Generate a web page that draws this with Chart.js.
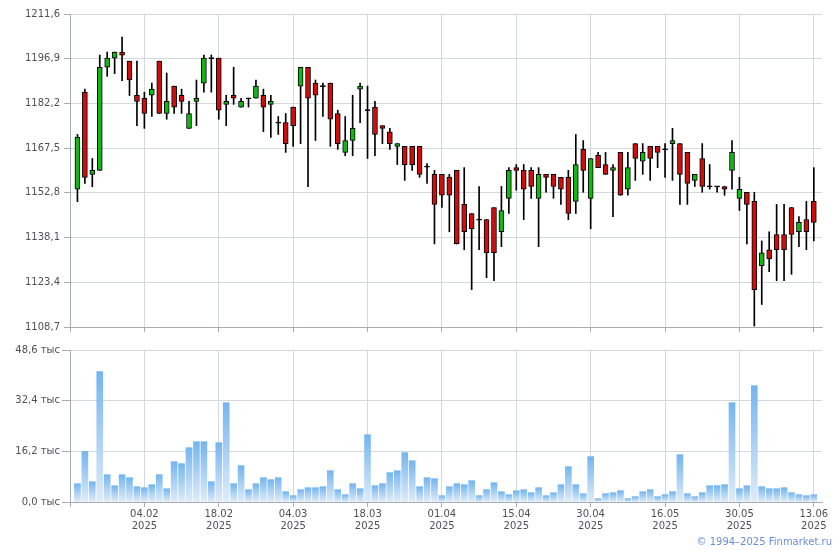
<!DOCTYPE html>
<html>
<head>
<meta charset="utf-8">
<script src="https://cdn.jsdelivr.net/npm/chart.js@4.4.0/dist/chart.umd.min.js"></script>
<style>
  body { margin: 0; background: #fff; }
  #wrap { position: relative; width: 840px; height: 550px; }
  #price { position: absolute; left: 0; top: 0; }
  #vol { position: absolute; left: 0; top: 335px; }
  #copy { position: absolute; right: 8px; top: 536px; font: 10px "DejaVu Sans"; color: #6b8fd6; line-height: 12px; }
</style>
</head>
<body>
<div id="wrap">
  <canvas id="price" width="840" height="337"></canvas>
  <canvas id="vol" width="840" height="215"></canvas>
  <div id="copy">© 1994–2025 Finmarket.ru</div>
</div>
<script>
// daily candles, 100 sessions (late Jan - 13.06.2025)
const opens = [
  1154.0, 1185.9, 1158.9, 1160.2, 1194.1, 1197.1, 1199.1, 1196.1, 1184.9, 1183.9,
  1184.9, 1196.1, 1178.9, 1187.9, 1184.9, 1174.0, 1182.9, 1188.9, 1197.1, 1197.1,
  1181.9, 1184.9, 1181.0, 1183.9, 1183.9, 1184.9, 1181.9, 1175.9, 1175.9, 1181.0,
  1187.9, 1194.1, 1188.9, 1187.9, 1188.9, 1178.9, 1166.1, 1170.0, 1186.9, 1180.0,
  1181.0, 1174.9, 1172.9, 1168.1, 1168.1, 1168.1, 1168.1, 1161.4, 1158.9, 1158.9,
  1158.0, 1160.2, 1149.0, 1146.0, 1144.0, 1144.0, 1148.0, 1140.0, 1151.0, 1161.1,
  1160.2, 1160.2, 1151.0, 1158.9, 1158.9, 1157.9, 1157.9, 1150.0, 1167.1, 1151.0,
  1165.1, 1162.1, 1160.2, 1166.1, 1154.0, 1169.0, 1163.2, 1168.1, 1168.1, 1167.1,
  1169.0, 1169.0, 1166.1, 1156.9, 1164.1, 1154.9, 1154.9, 1154.9, 1160.2, 1151.0,
  1153.0, 1150.0, 1128.9, 1134.1, 1139.1, 1139.1, 1148.0, 1140.0, 1144.0, 1150.0
];
const highs = [
  1172.0, 1186.9, 1164.1, 1198.1, 1199.1, 1199.1, 1204.0, 1196.1, 1196.1, 1185.9,
  1188.9, 1196.1, 1192.2, 1187.9, 1186.9, 1182.9, 1189.9, 1198.1, 1198.1, 1197.1,
  1184.9, 1194.1, 1183.9, 1183.9, 1189.9, 1186.9, 1184.9, 1177.9, 1178.9, 1181.0,
  1194.1, 1194.1, 1189.9, 1188.9, 1188.9, 1180.0, 1177.9, 1184.9, 1188.9, 1187.9,
  1182.9, 1174.9, 1174.0, 1169.0, 1168.1, 1168.1, 1168.1, 1162.4, 1160.2, 1158.9,
  1158.9, 1160.2, 1161.1, 1146.0, 1154.9, 1144.0, 1148.0, 1154.9, 1161.1, 1162.1,
  1162.1, 1161.1, 1161.1, 1158.9, 1158.9, 1157.9, 1160.2, 1172.0, 1170.0, 1164.1,
  1166.1, 1166.1, 1162.1, 1166.1, 1166.1, 1169.0, 1169.0, 1168.1, 1168.1, 1169.0,
  1174.0, 1169.0, 1166.1, 1158.9, 1169.0, 1162.1, 1154.9, 1154.9, 1170.0, 1157.9,
  1153.0, 1153.0, 1137.0, 1140.0, 1149.0, 1149.0, 1148.0, 1145.0, 1150.0, 1161.1
];
const lows = [
  1149.9, 1155.9, 1154.8, 1160.2, 1191.1, 1192.0, 1189.7, 1184.8, 1174.9, 1174.0,
  1177.9, 1178.9, 1177.0, 1178.9, 1178.9, 1174.0, 1174.9, 1185.9, 1185.9, 1177.0,
  1174.9, 1181.9, 1181.0, 1181.0, 1183.9, 1172.9, 1171.0, 1172.0, 1166.1, 1168.1,
  1169.0, 1154.8, 1170.0, 1177.9, 1168.1, 1167.1, 1165.0, 1165.0, 1175.9, 1164.1,
  1165.0, 1169.0, 1167.1, 1162.1, 1156.9, 1160.2, 1157.9, 1155.9, 1136.0, 1148.0,
  1140.0, 1136.0, 1134.1, 1121.0, 1134.1, 1124.9, 1123.9, 1135.1, 1146.0, 1153.7,
  1144.0, 1151.0, 1135.1, 1153.0, 1151.0, 1149.0, 1144.0, 1146.0, 1153.0, 1141.0,
  1161.1, 1158.9, 1145.0, 1152.0, 1152.0, 1156.9, 1158.9, 1156.9, 1161.1, 1157.9,
  1156.9, 1149.0, 1149.0, 1154.9, 1153.0, 1154.0, 1153.0, 1152.0, 1154.0, 1147.0,
  1136.0, 1109.0, 1116.1, 1126.9, 1123.9, 1123.9, 1126.0, 1135.1, 1134.1, 1137.0
];
const closes = [
  1171.1, 1157.9, 1160.2, 1194.1, 1197.1, 1199.1, 1198.1, 1189.9, 1182.9, 1178.9,
  1186.9, 1178.9, 1182.9, 1181.0, 1182.9, 1178.9, 1183.9, 1197.1, 1197.1, 1180.0,
  1182.9, 1183.9, 1182.9, 1183.9, 1187.9, 1181.0, 1182.9, 1175.9, 1169.0, 1174.9,
  1194.1, 1183.9, 1184.9, 1187.9, 1177.0, 1169.0, 1170.0, 1174.0, 1187.9, 1180.0,
  1172.0, 1174.0, 1169.0, 1169.0, 1162.1, 1162.1, 1158.9, 1161.4, 1149.0, 1152.0,
  1152.0, 1136.0, 1140.0, 1141.0, 1144.0, 1133.1, 1133.1, 1147.0, 1160.2, 1160.2,
  1154.0, 1154.9, 1158.9, 1157.9, 1154.9, 1154.0, 1146.0, 1162.1, 1160.2, 1164.1,
  1161.1, 1158.9, 1161.1, 1152.0, 1161.1, 1164.1, 1166.1, 1164.1, 1166.1, 1167.1,
  1170.0, 1158.9, 1155.9, 1158.9, 1154.9, 1154.9, 1154.9, 1154.0, 1166.1, 1154.0,
  1149.0, 1121.0, 1133.1, 1131.1, 1134.1, 1134.1, 1139.1, 1143.1, 1140.0, 1143.1
];
// volume, thousands
const volumes = [
  5.86, 16.2, 6.5, 41.7, 8.74, 5.22, 8.74, 7.78, 4.9, 4.58,
  5.54, 8.74, 4.26, 12.9, 12.26, 17.37, 19.29, 19.29, 6.5, 18.97,
  31.76, 5.86, 11.62, 3.94, 5.86, 7.78, 7.14, 7.78, 3.3, 2.03,
  3.94, 4.58, 4.58, 4.9, 10.02, 3.94, 2.34, 5.86, 4.26, 21.53,
  5.22, 5.86, 9.38, 10.02, 15.77, 13.2, 4.9, 7.78, 7.46, 2.03,
  4.9, 5.86, 5.54, 6.82, 2.03, 3.94, 6.18, 3.3, 2.34, 3.62,
  3.94, 2.98, 4.58, 2.03, 2.98, 5.54, 11.3, 5.54, 2.66, 14.5,
  1.07, 2.66, 2.98, 3.62, 1.07, 1.71, 3.3, 3.94, 1.71, 2.34,
  3.3, 15.13, 2.66, 1.71, 2.98, 5.22, 5.22, 5.54, 31.76, 4.26,
  5.22, 37.2, 4.9, 4.26, 4.26, 4.58, 2.98, 2.34, 2.03, 2.34
];
const tickIdx = [9, 19, 29, 39, 49, 59, 69, 79, 89, 99];
const tickDates = ['04.02', '18.02', '04.03', '18.03', '01.04', '15.04', '30.04', '16.05', '30.05', '13.06'];
const tickYear = '2025';
const priceTicks = [1108.7, 1123.4, 1138.1, 1152.8, 1167.5, 1182.2, 1196.9, 1211.6];
const volTicks = [0, 16.2, 32.4, 48.6];

const GRID = '#d3d8dc';
const AXIS = '#a8adb4';
const UP = '#12b812';
const DOWN = '#d00d0d';

Chart.defaults.font.family = 'DejaVu Sans';
Chart.defaults.font.size = 10;
Chart.defaults.color = '#50505a';

const commaNum = v => v.toFixed(1).replace('.', ',');

function xAxis(showLabels) {
  return {
    type: 'linear', min: -1, max: 100.1, offset: false, grace: 0,
    afterBuildTicks: s => { s.ticks = [-1].concat(tickIdx).map(v => ({ value: v })); },
    grid: { color: GRID, tickColor: AXIS, tickLength: 5, z: -1, offset: false },
    border: { color: AXIS },
    ticks: {
      display: showLabels, autoSkip: false, maxRotation: 0, padding: 1,
      font: { size: 10, lineHeight: 1.25 },
      callback: v => {
        const k = tickIdx.indexOf(v);
        return k < 0 ? '' : [tickDates[k], tickYear];
      }
    }
  };
}

const idx = opens.map((_, i) => i);
const isDoji = i => Math.abs(closes[i] - opens[i]) < 0.35;

// body of each candle as a floating bar, doji shown as a thin black line
const bodyData = idx.map(i => {
  let lo = Math.min(opens[i], closes[i]);
  let hi = Math.max(opens[i], closes[i]);
  if (isDoji(i)) { const m = (lo + hi) / 2; lo = m - 0.17; hi = m + 0.17; }
  return { x: i, y: [lo, hi] };
});
const wickData = idx.map(i => ({ x: i, y: [lows[i], highs[i]] }));

new Chart(document.getElementById('price'), {
  type: 'bar',
  data: {
    datasets: [
      {
        data: bodyData,
        backgroundColor: ctx => isDoji(ctx.dataIndex) ? '#000' : (closes[ctx.dataIndex] > opens[ctx.dataIndex] ? UP : DOWN),
        borderColor: '#000', borderWidth: 1, borderSkipped: false,
        barThickness: 5, grouped: false, order: 0
      },
      {
        data: wickData,
        backgroundColor: '#000', borderWidth: 0,
        barThickness: 1, grouped: false, order: 1
      }
    ]
  },
  options: {
    responsive: false, animation: false, events: [],
    layout: { padding: { top: 14, right: 18, bottom: 0, left: 0 } },
    plugins: { legend: { display: false }, tooltip: { enabled: false } },
    scales: {
      x: xAxis(false),
      y: {
        min: 1108.7, max: 1211.6,
        afterBuildTicks: s => { s.ticks = priceTicks.map(v => ({ value: v })); },
        afterFit: s => { s.width = 70; },
        grid: { color: GRID, tickColor: AXIS, tickLength: 6, z: -1 },
        border: { color: AXIS },
        ticks: { padding: 4, callback: v => commaNum(v) }
      }
    }
  }
});

new Chart(document.getElementById('vol'), {
  type: 'bar',
  data: {
    datasets: [{
      data: volumes.map((v, i) => ({ x: i, y: v })),
      backgroundColor: ctx => {
        const chart = ctx.chart;
        const ys = chart.scales.y;
        if (!chart.chartArea || !ys || ctx.dataIndex === undefined) return '#a9d0f3';
        const top = ys.getPixelForValue(volumes[ctx.dataIndex]);
        const bot = ys.getPixelForValue(0);
        const g = chart.ctx.createLinearGradient(0, top, 0, bot);
        g.addColorStop(0, '#74b5ef');
        g.addColorStop(1, '#e0ecf8');
        return g;
      },
      barThickness: 6
    }]
  },
  options: {
    responsive: false, animation: false, events: [],
    layout: { padding: { top: 15, right: 18, bottom: 16, left: 0 } },
    plugins: { legend: { display: false }, tooltip: { enabled: false } },
    scales: {
      x: xAxis(true),
      y: {
        min: 0, max: 48.6,
        afterBuildTicks: s => { s.ticks = volTicks.map(v => ({ value: v })); },
        afterFit: s => { s.width = 70; },
        grid: { color: GRID, tickColor: AXIS, tickLength: 8, z: -1 },
        border: { color: AXIS },
        ticks: { padding: 2, callback: v => commaNum(v) + ' тыс' }
      }
    }
  }
});
</script>
</body>
</html>
